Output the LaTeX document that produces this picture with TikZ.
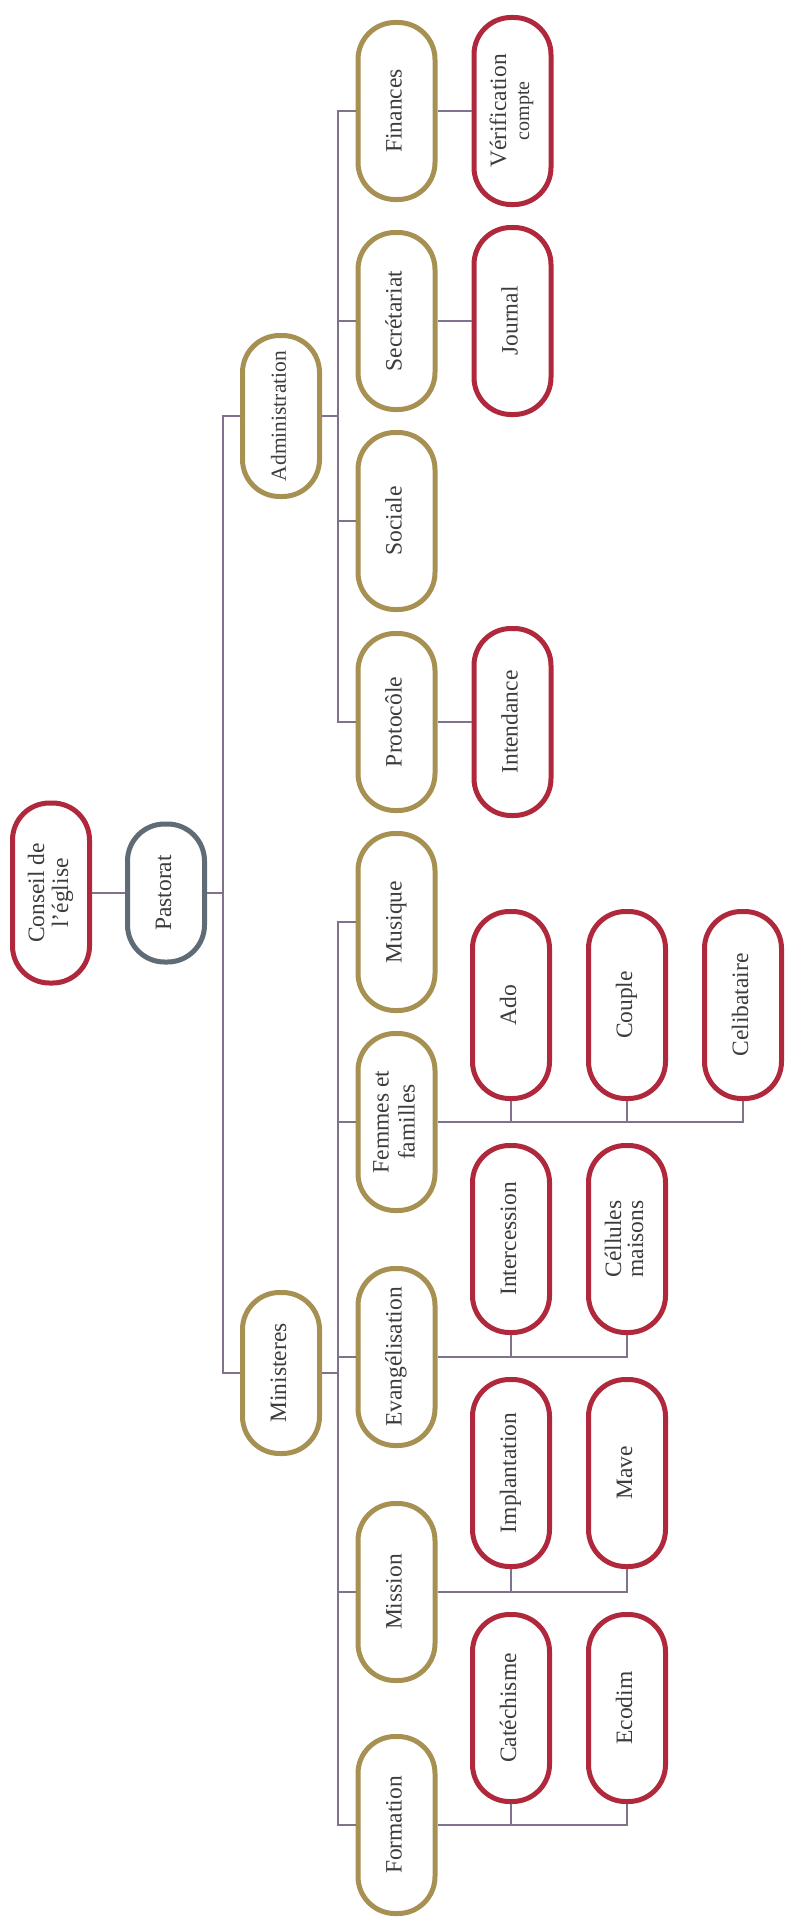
\documentclass[tikz,border=0pt]{standalone}
\usepackage{fontspec}
\setmainfont{Liberation Serif}
\usepackage{xcolor}
\definecolor{goldLine}{HTML}{A69153}
\definecolor{redLine}{HTML}{B0283C}
\definecolor{slateLine}{HTML}{5F6B75}
\definecolor{linkColor}{HTML}{80728C}
\definecolor{textDark}{HTML}{3C3C3C}
\usepackage{graphicx}
\usepackage{tikz}
\usetikzlibrary{positioning,calc}
\newcommand{\vtext}[1]{\rotatebox{90}{\begin{tabular}{@{}c@{}}#1\end{tabular}}}
\tikzset{%
  pillBox/.style={%
    rectangle,
    rounded corners=37pt,
    line width=5pt,
    fill=white,
    text=textDark,
    inner sep=0pt,
    minimum width=77pt,
    font=\fontsize{23.5}{26}\selectfont
  },
  topBox/.style={pillBox, draw=redLine, minimum height=180pt},
  slateBox/.style={pillBox, draw=slateLine, minimum height=138pt},
  headBox/.style={pillBox, draw=goldLine, minimum height=161pt},
  goldBox/.style={pillBox, draw=goldLine, minimum height=177pt},
  redBox/.style={pillBox, draw=redLine, minimum height=187pt},
  linkLine/.style={draw=linkColor, line width=1.3pt}
}

\begin{document}
\begin{tikzpicture}[x=1pt, y=-1pt, node distance=34pt]
  \useasboundingbox (0,0) rectangle (786,1932);

  \node[topBox] (conseil) at (51,893) {\vtext{Conseil de\\[-2pt]l’église}};
  \node[slateBox] (pastorat) at (166,893) {\vtext{Pastorat}};

  \node[headBox, font=\fontsize{21.5}{24}\selectfont] (admin) at (281,416) {\vtext{Administration}};
  \node[headBox] (minis) at (281,1373) {\vtext{Ministeres}};

  \node[goldBox] (fin) at (396.5,111) {\vtext{Finances}};
  \node[goldBox] (secr) at (396.5,321) {\vtext{Secrétariat}};
  \node[goldBox] (soc) at (396.5,521) {\vtext{Sociale}};
  \node[goldBox] (proto) at (396.5,722) {\vtext{Protocôle}};
  \node[goldBox] (musi) at (396.5,922) {\vtext{Musique}};
  \node[goldBox] (femm) at (396.5,1122) {\vtext{Femmes et\\familles}};
  \node[goldBox] (evan) at (396.5,1357) {\vtext{Evangélisation}};
  \node[goldBox] (miss) at (396.5,1592) {\vtext{Mission}};
  \node[goldBox] (form) at (396.5,1825) {\vtext{Formation}};

  \node[redBox, right=of fin] (verif) {\vtext{Vérification\\[-3pt]{\fontsize{20}{22}\selectfont compte}}};
  \node[redBox, right=of secr] (journ) {\vtext{Journal}};
  \node[redBox, right=of proto] (intend) {\vtext{Intendance}};

  \node[redBox] (ado) at (511,1005) {\vtext{Ado}};
  \node[redBox, right=of ado] (couple) {\vtext{Couple}};
  \node[redBox, right=of couple] (celib) {\vtext{Celibataire}};

  \node[redBox] (interc) at (511,1239) {\vtext{Intercession}};
  \node[redBox, right=of interc] (cellu) {\vtext{Céllules\\[-4pt]maisons}};

  \node[redBox] (implant) at (511,1473) {\vtext{Implantation}};
  \node[redBox, right=of implant] (mave) {\vtext{Mave}};

  \node[redBox] (catech) at (511,1708) {\vtext{Catéchisme}};
  \node[redBox, right=of catech] (ecodim) {\vtext{Ecodim}};

  \coordinate (pastJoint) at (223,893);
  \coordinate (adminJoint) at (338,416);
  \coordinate (minisJoint) at (338,1373);

  \draw[linkLine] (conseil) -- (pastorat);
  \draw[linkLine] (pastorat.east) -- (pastJoint);
  \draw[linkLine] (admin.west) -| (pastJoint) |- (minis.west);

  \draw[linkLine] (admin.east) -- (adminJoint);
  \foreach \n in {fin,secr,soc,proto}
    \draw[linkLine] (adminJoint) |- (\n.west);
  \draw[linkLine] (minis.east) -- (minisJoint);
  \foreach \n in {musi,femm,evan,miss,form}
    \draw[linkLine] (minisJoint) |- (\n.west);

  \draw[linkLine] (fin) -- (verif);
  \draw[linkLine] (secr) -- (journ);
  \draw[linkLine] (proto) -- (intend);

  \draw[linkLine] (femm.east) -| (celib.south);
  \draw[linkLine] (ado.south) -- (ado.south |- femm.east);
  \draw[linkLine] (couple.south) -- (couple.south |- femm.east);
  \draw[linkLine] (evan.east) -| (cellu.south);
  \draw[linkLine] (interc.south) -- (interc.south |- evan.east);
  \draw[linkLine] (miss.east) -| (mave.south);
  \draw[linkLine] (implant.south) -- (implant.south |- miss.east);
  \draw[linkLine] (form.east) -| (ecodim.south);
  \draw[linkLine] (catech.south) -- (catech.south |- form.east);
\end{tikzpicture}
\end{document}
